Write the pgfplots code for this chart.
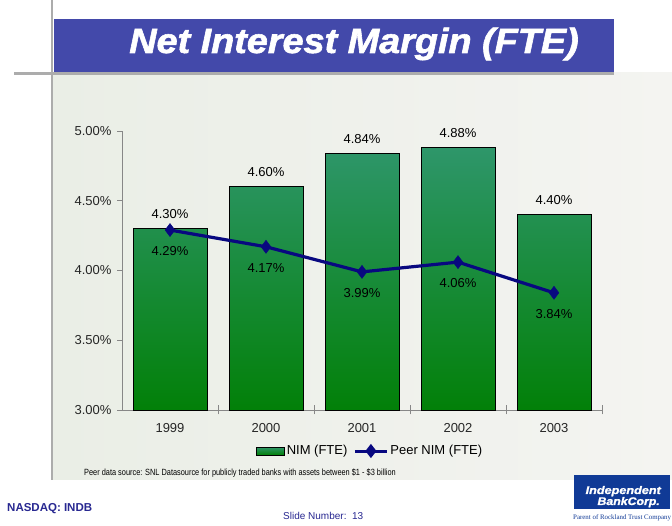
\documentclass[border=0pt]{standalone}
\usepackage{fontspec}
\setmainfont{Liberation Sans}
\newfontfamily\seriffont{Liberation Serif}
\newfontfamily\heavyfont{Liberation Sans}[FakeBold=1.6]
\newfontfamily\logofont{Liberation Sans}[FakeBold=1.2]
\usepackage{pgfplots}
\pgfplotsset{compat=1.18}
\usepackage{pgfplotstable}
\usepackage{graphicx}

\definecolor{banner}{RGB}{67,73,170}
\definecolor{panelL}{RGB}{234,238,230}
\definecolor{panelR}{RGB}{244,244,241}
\definecolor{gline}{RGB}{172,172,172}
\definecolor{axisgray}{RGB}{135,135,135}
\definecolor{bartop}{RGB}{46,150,106}
\definecolor{barbot}{RGB}{2,128,8}
\definecolor{peer}{RGB}{8,8,128}
\definecolor{nasdaq}{RGB}{40,40,145}
\definecolor{logoblue}{RGB}{16,58,150}

\pgfplotstableread{
x year nim peer
0 1999 4.30 4.29
1 2000 4.60 4.17
2 2001 4.84 3.99
3 2002 4.88 4.06
4 2003 4.40 3.84
}\datatable

\begin{document}
\begin{tikzpicture}
\path[use as bounding box, fill=white] (0pt,0pt) rectangle (672pt,526pt);
\shade[left color=panelL, right color=panelR] (52pt,46pt) rectangle (672pt,453pt);
\draw[gline, line width=2.5pt] (52pt,46pt) -- (52pt,526pt);
\draw[gline, line width=2.5pt] (14pt,452.5pt) -- (614pt,452.5pt);
\fill[banner] (53.5pt,454pt) rectangle (614pt,507pt);
\node[anchor=base, text=white, inner sep=0] at (354pt,473pt) {\scalebox{1.08}[1]{\heavyfont\fontsize{35}{40}\selectfont\bfseries\itshape Net Interest Margin (FTE)}};

\begin{axis}[
  at={(122pt,116pt)}, anchor=south west,
  scale only axis, width=480pt, height=279pt,
  xmin=-0.5, xmax=4.5, ymin=0, ymax=2,
  clip=false,
  axis lines=left,
  axis line style={draw=axisgray, line width=0.8pt, -},
  ytick={0,0.5,1,1.5,2},
  yticklabels={3.00\%,3.50\%,4.00\%,4.50\%,5.00\%},
  xtick={0,1,2,3,4},
  xticklabels={1999,2000,2001,2002,2003},
  minor xtick={0.5,1.5,2.5,3.5,4.5},
  tick align=outside,
  major tick length=5pt,
  minor tick length=9pt,
  xtick style={draw=none},
  ytick style={draw=axisgray, line width=0.8pt},
  minor x tick style={draw=axisgray, line width=0.8pt, yshift=4.5pt},
  tick label style={font=\fontsize{13}{15}\selectfont, text=black!85},
  xticklabel style={yshift=-5pt},
  yticklabel style={xshift=-2pt},
  /pgf/number format/assume math mode=true,
  legend style={at={(0.517,-0.147)}, anchor=center, draw=none, fill=none,
    legend columns=2, font=\fontsize{13}{15}\selectfont,
    /tikz/every even column/.append style={column sep=4pt}},
]
\addplot[ybar, bar width=74pt, draw=black, line width=0.8pt,
  top color=bartop, bottom color=barbot,
  point meta=explicit,
  nodes near coords={\pgfmathprintnumber[fixed,fixed zerofill,precision=2]{\pgfplotspointmeta}\%},
  every node near coord/.style={anchor=base, yshift=10pt, inner sep=0pt, text=black, font=\fontsize{13}{15}\selectfont},
  legend image code/.code={\draw[draw=black, line width=0.6pt, top color=bartop, bottom color=barbot] (0pt,-4pt) rectangle (28pt,4pt);}
] table[x=x, y expr=\thisrow{nim}-3, meta=nim] {\datatable};
\addlegendentry{NIM (FTE)}
\addplot[color=peer, line width=3.2pt, mark=diamond*, mark size=6.5pt,
  mark options={line width=0.5pt, fill=peer, solid},
  point meta=explicit,
  nodes near coords={\pgfmathprintnumber[fixed,fixed zerofill,precision=2]{\pgfplotspointmeta}\%},
  every node near coord/.style={anchor=base, yshift=-25.5pt, inner sep=0pt, text=black, font=\fontsize{13}{15}\selectfont},
  legend image code/.code={\draw[color=peer, line width=3pt] (0pt,0pt) -- (32pt,0pt); \fill[peer] (16pt,0pt) +(0,4.5pt) -- +(3.5pt,0) -- +(0,-4.5pt) -- +(-3.5pt,0) -- cycle;}
] table[x=x, y expr=\thisrow{peer}-3, meta=peer] {\datatable};
\addlegendentry{Peer NIM (FTE)}
\end{axis}

\node[anchor=base west, inner sep=0] at (84pt,50pt) {\scalebox{0.82}[1]{\fontsize{9}{10}\selectfont Peer data source: SNL Datasource for publicly traded banks with assets between \$1 - \$3 billion}};
\node[anchor=base west, inner sep=0, text=nasdaq] at (7pt,14pt) {\fontsize{11.5}{13}\selectfont\bfseries NASDAQ: INDB};
\node[anchor=base west, inner sep=0, text=nasdaq] at (283pt,6pt) {\fontsize{10}{12}\selectfont Slide Number:\ \ 13};
\fill[logoblue] (574pt,17pt) rectangle (670pt,51pt);
\node[anchor=base east, text=white, inner sep=0] at (661pt,32pt) {\scalebox{1.15}[1]{\logofont\fontsize{11}{12}\selectfont\bfseries\itshape Independent}};
\node[anchor=base east, text=white, inner sep=0] at (660pt,21pt) {\scalebox{1.12}[1]{\logofont\fontsize{11}{12}\selectfont\bfseries\itshape BankCorp.}};
\node[anchor=base west, text=logoblue, inner sep=0] at (573pt,6.5pt) {\seriffont\fontsize{6.9}{8}\selectfont Parent of Rockland Trust Company};
\end{tikzpicture}
\end{document}
